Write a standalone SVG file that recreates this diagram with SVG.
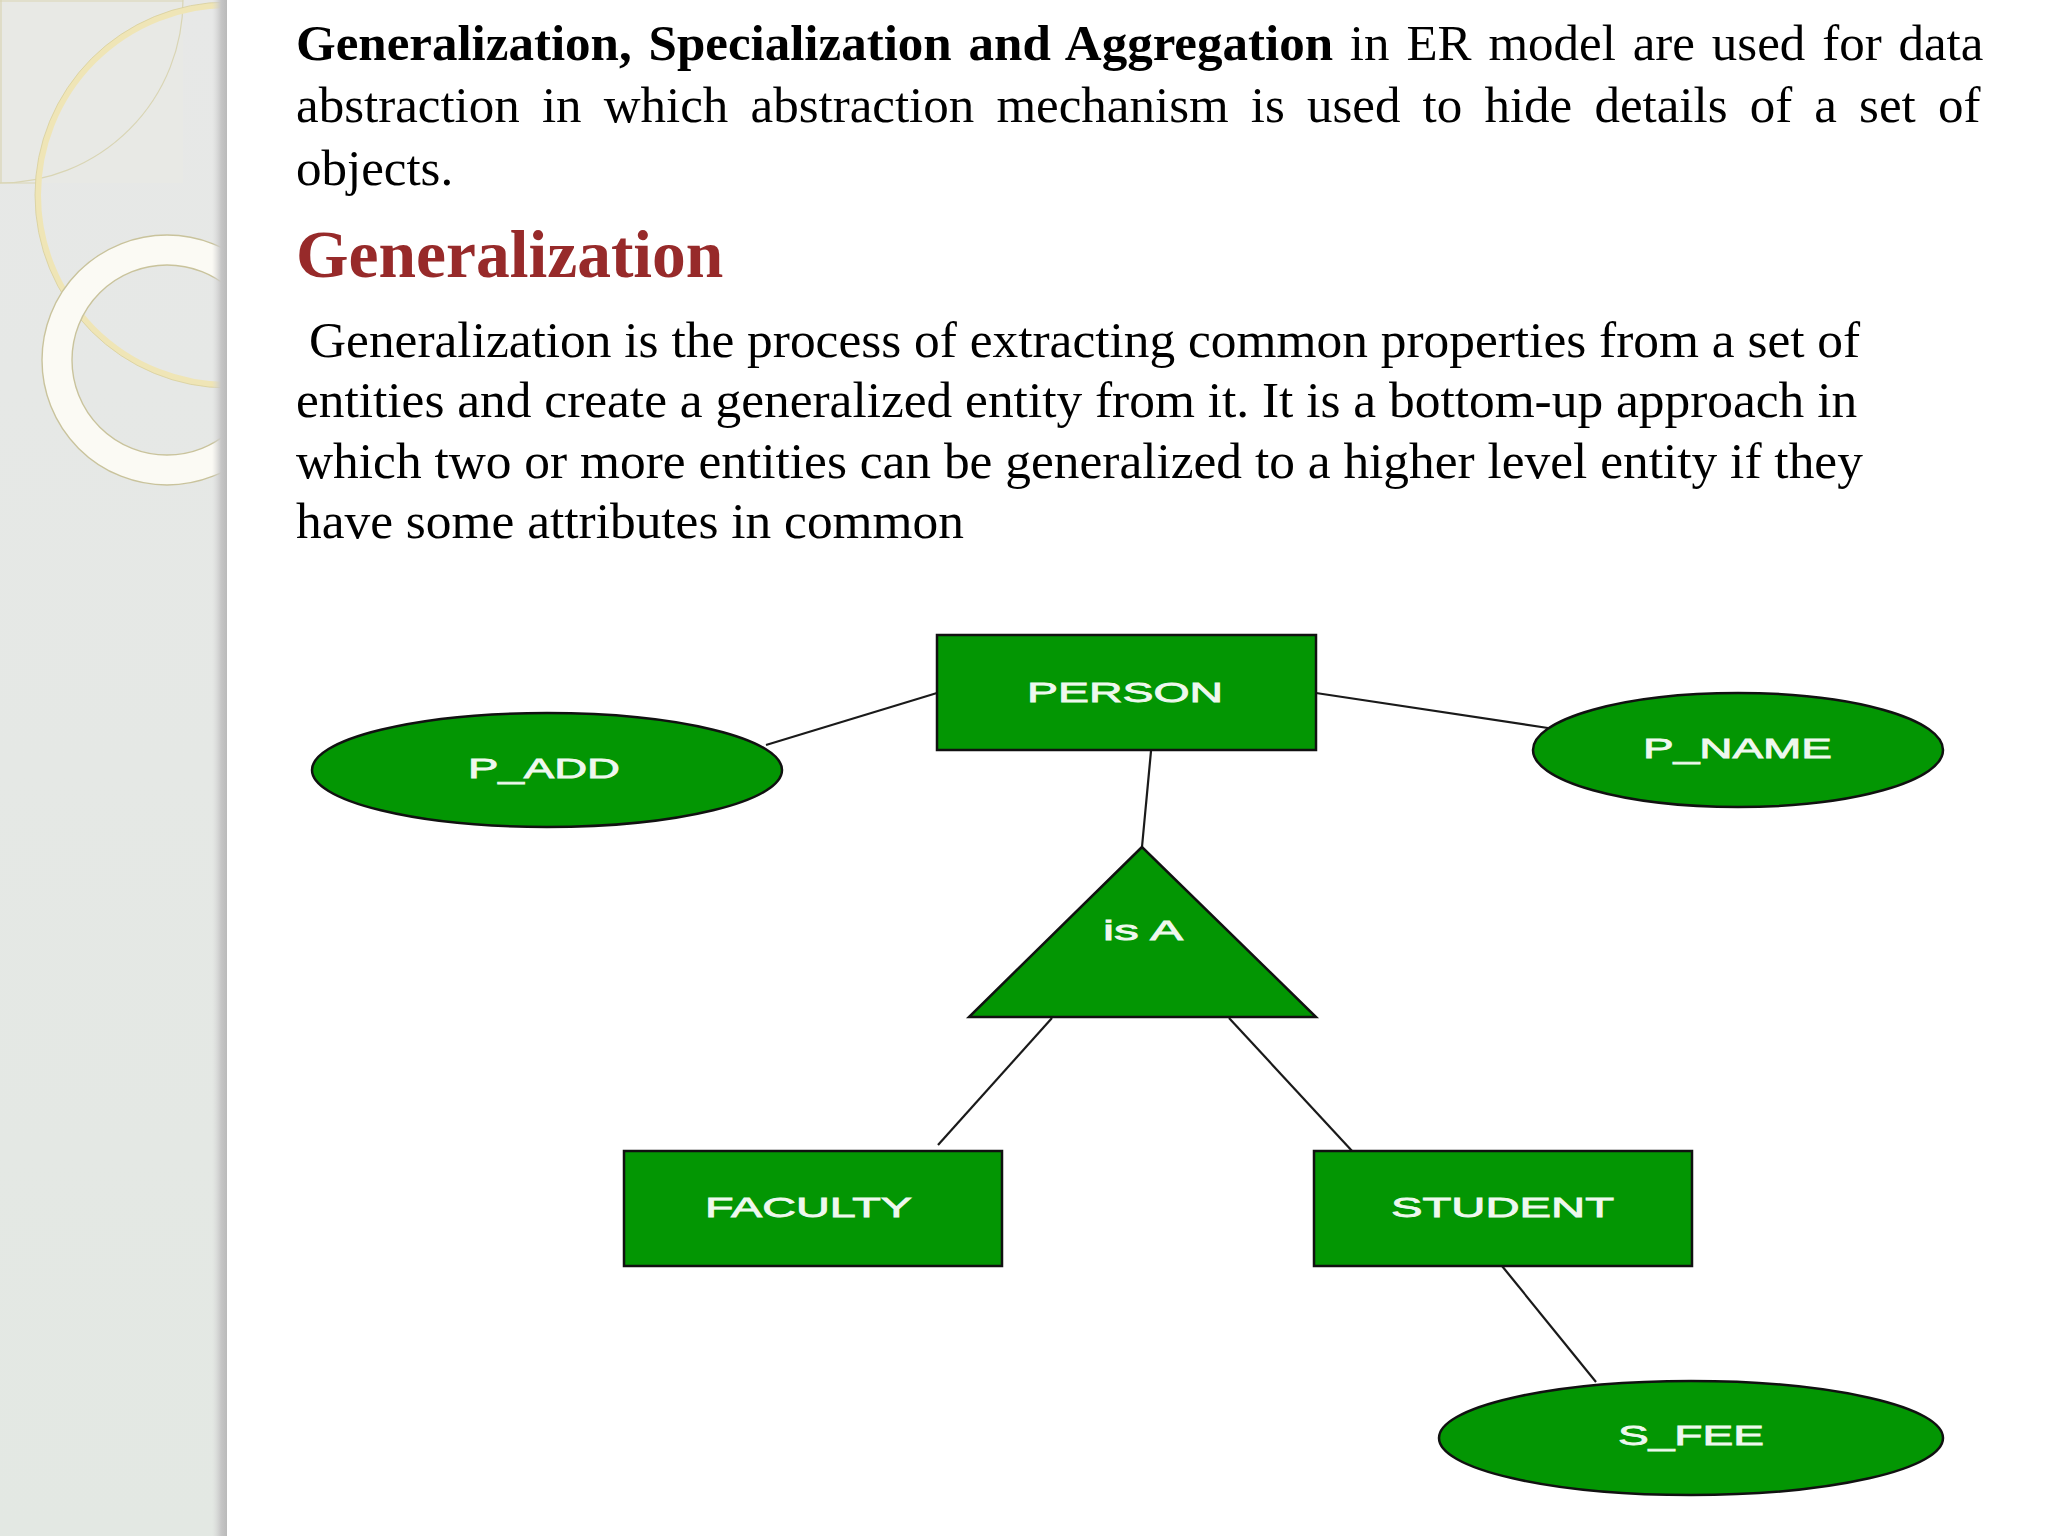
<svg xmlns="http://www.w3.org/2000/svg" width="2048" height="1536" viewBox="0 0 2048 1536">
<defs>
<linearGradient id="panelG" x1="0" y1="0" x2="0" y2="1">
<stop offset="0" stop-color="#e7e8e7"/>
<stop offset="0.5" stop-color="#e5e8e5"/>
<stop offset="1" stop-color="#e3e8e3"/>
</linearGradient>
<linearGradient id="edgeG" x1="0" y1="0" x2="1" y2="0">
<stop offset="0" stop-color="#d8d8d8" stop-opacity="0"/>
<stop offset="0.6" stop-color="#c6c6c6"/>
<stop offset="1" stop-color="#b9b9b9"/>
</linearGradient>
<clipPath id="panelClip"><rect x="0" y="0" width="227" height="1536"/></clipPath>
<style>
.body{font-family:"Liberation Serif","Times New Roman",serif;font-size:51px;fill:#000}
.p2{font-size:51.4px}
.bold{font-weight:bold}
.head{font-family:"Liberation Serif","Times New Roman",serif;font-size:67.5px;font-weight:bold;fill:#972a2a}
.ent{fill:#039603;stroke:#111;stroke-width:2.5}
.lbl{font-family:"Liberation Sans",Arial,sans-serif;font-size:28px;fill:#eef8ee;stroke:#eef8ee;stroke-width:0.8}
.conn line{stroke:#1a1a1a;stroke-width:2.2}
</style>
</defs>
<rect width="2048" height="1536" fill="#ffffff"/>
<g id="panel" clip-path="url(#panelClip)">
<rect x="0" y="0" width="227" height="1536" fill="url(#panelG)"/>
<rect x="0" y="0" width="183" height="183" fill="#eaeae4" opacity="0.6"/>
<path d="M0 1 H183 M1 0 V183 M0 183 H36" fill="none" stroke="#d9d5b4" stroke-width="1.2"/>
<path d="M183 0 A183 183 0 0 1 0 183" fill="none" stroke="#d9d5b4" stroke-width="1.2"/>
<circle cx="228" cy="195" r="190" fill="none" stroke="#efe5b6" stroke-width="6"/>
<circle cx="228" cy="195" r="193" fill="none" stroke="#d8cf9c" stroke-width="0.8"/>
<circle cx="167" cy="360" r="110" fill="none" stroke="#fbfaf4" stroke-width="30"/>
<circle cx="167" cy="360" r="125" fill="none" stroke="#c9c39c" stroke-width="1.4"/>
<circle cx="167" cy="360" r="95" fill="none" stroke="#c9c39c" stroke-width="1.4"/>
<rect x="212" y="0" width="15" height="1536" fill="url(#edgeG)"/>
</g>
<g id="text">
<text class="body" x="296" y="60" word-spacing="4.1"><tspan class="bold">Generalization, Specialization and Aggregation</tspan> in ER model are used for data</text>
<text class="body" x="296" y="122" word-spacing="9.4">abstraction in which abstraction mechanism is used to hide details of a set of</text>
<text class="body" x="296" y="185">objects.</text>
<text class="head" x="296" y="277">Generalization</text>
<text class="body p2" x="309" y="357">Generalization is the process of extracting common properties from a set of</text>
<text class="body p2" x="296" y="417">entities and create a generalized entity from it. It is a bottom-up approach in</text>
<text class="body p2" x="296" y="478">which two or more entities can be generalized to a higher level entity if they</text>
<text class="body p2" x="296" y="538">have some attributes in common</text>
</g>
<g id="connectors" class="conn">
<line x1="937" y1="693" x2="766" y2="745"/>
<line x1="1316" y1="693" x2="1548" y2="728"/>
<line x1="1151" y1="751" x2="1142" y2="847"/>
<line x1="1052" y1="1018" x2="938" y2="1145"/>
<line x1="1229" y1="1018" x2="1353" y2="1152"/>
<line x1="1502" y1="1266" x2="1596" y2="1382"/>
</g>
<g id="person">
<rect class="ent" x="937" y="635" width="379" height="115"/>
<text class="lbl" x="1027" y="702" textLength="196" lengthAdjust="spacingAndGlyphs">PERSON</text>
</g>
<g id="p_add">
<ellipse class="ent" cx="547" cy="770" rx="235" ry="57"/>
<text class="lbl" x="468" y="778" textLength="152" lengthAdjust="spacingAndGlyphs">P_ADD</text>
</g>
<g id="p_name">
<ellipse class="ent" cx="1738" cy="750" rx="205" ry="57"/>
<text class="lbl" x="1643" y="758" textLength="189" lengthAdjust="spacingAndGlyphs">P_NAME</text>
</g>
<g id="isa">
<polygon class="ent" points="1142,847 969,1017 1316,1017" stroke-width="2"/>
<text class="lbl" x="1103" y="940" textLength="80" lengthAdjust="spacingAndGlyphs">is A</text>
</g>
<g id="faculty">
<rect class="ent" x="624" y="1151" width="378" height="115"/>
<text class="lbl" x="705" y="1217" textLength="207" lengthAdjust="spacingAndGlyphs">FACULTY</text>
</g>
<g id="student">
<rect class="ent" x="1314" y="1151" width="378" height="115"/>
<text class="lbl" x="1391" y="1217" textLength="223" lengthAdjust="spacingAndGlyphs">STUDENT</text>
</g>
<g id="s_fee">
<ellipse class="ent" cx="1691" cy="1438" rx="252" ry="57"/>
<text class="lbl" x="1618" y="1445" textLength="146" lengthAdjust="spacingAndGlyphs">S_FEE</text>
</g>
</svg>
